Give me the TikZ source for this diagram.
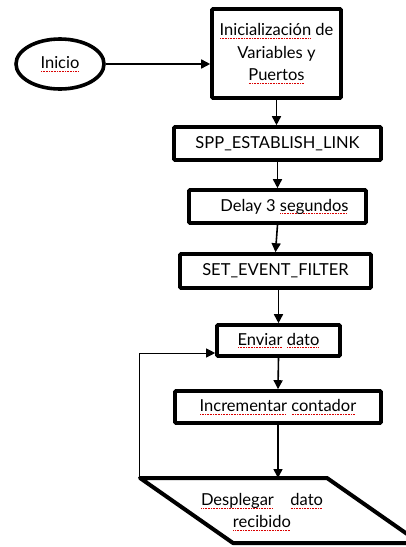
\documentclass[tikz,border=0pt]{standalone}
\usepackage{fontspec}
\setmainfont{Lato}
\usetikzlibrary{shapes.geometric,arrows.meta}
% red dotted spell-check underline beneath a word
\newcommand\spell[1]{\setbox0\hbox{#1}\rlap{\color{red!85!black}\raisebox{-3pt}{\leaders\hbox to 1.6pt{\hss\rule{0.8pt}{0.6pt}\hss}\hskip\wd0}}#1}
\begin{document}
\begin{tikzpicture}[x=1pt,y=-1pt,
  font=\fontsize{16.5}{22.5}\selectfont,
  stepbox/.style={draw,line width=3.6pt,rounded corners=1pt,inner sep=0pt,align=center},
  flow/.style={line width=1.6pt,-{Triangle[length=9pt,width=9pt]}},
  back/.style={line width=1pt,-{Triangle[length=9pt,width=9pt]}}]
\useasboundingbox (0,0) rectangle (406,547);

\node[ellipse,draw,line width=3.6pt,minimum width=88pt,minimum height=50pt,inner sep=0pt] (inicio) at (60,64) {\spell{Inicio}};

\node[stepbox,minimum width=129pt,minimum height=89pt] (init) at (276.5,53.5)
  {\spell{Inicialización} de\\Variables y\\\spell{Puertos}};
\node[stepbox,minimum width=207pt,minimum height=33pt] (spp) at (277.5,143.5) {SPP\_ESTABLISH\_LINK};
\node[stepbox,minimum width=177pt,minimum height=33pt] (delay) at (277.5,206.5) {\hspace*{14pt}Delay 3 \spell{segundos}};
\node[stepbox,minimum width=191pt,minimum height=34pt] (set) at (275.5,271) {SET\_EVENT\_FILTER};
\node[stepbox,minimum width=123pt,minimum height=31pt] (enviar) at (278.5,340.5) {\spell{Enviar} \spell{dato}};
\node[stepbox,minimum width=206pt,minimum height=32pt] (incr) at (278,407) {\spell{Incrementar} \spell{contador}};

% data output parallelogram
\draw[line width=4pt,line join=round] (140,478) -- (327,478) -- (420,543) -- (233,543) -- cycle;
\coordinate (dtop) at (278,478);
\coordinate (dleft) at (139,478);
\node[align=center,inner sep=0pt] (desp) at (262,512) {\spell{Desplegar}\quad\spell{dato}\\\spell{recibido}};

\draw[flow] (inicio.east) -- (inicio.east -| init.west);
\draw[flow] (init.south) -- (init.south |- spp.north);
\draw[flow] (spp.south) -- (delay.north);
\draw[flow] (delay.south) -- (set.north);
\draw[flow] (set.south -| enviar.north) -- (enviar.north);
\draw[flow] (enviar.south) -- (incr.north);
\draw[flow] (incr.south) -- (dtop);
\draw[back] (dleft) |- ([yshift=-12.5pt]enviar.west);
\end{tikzpicture}
\end{document}
